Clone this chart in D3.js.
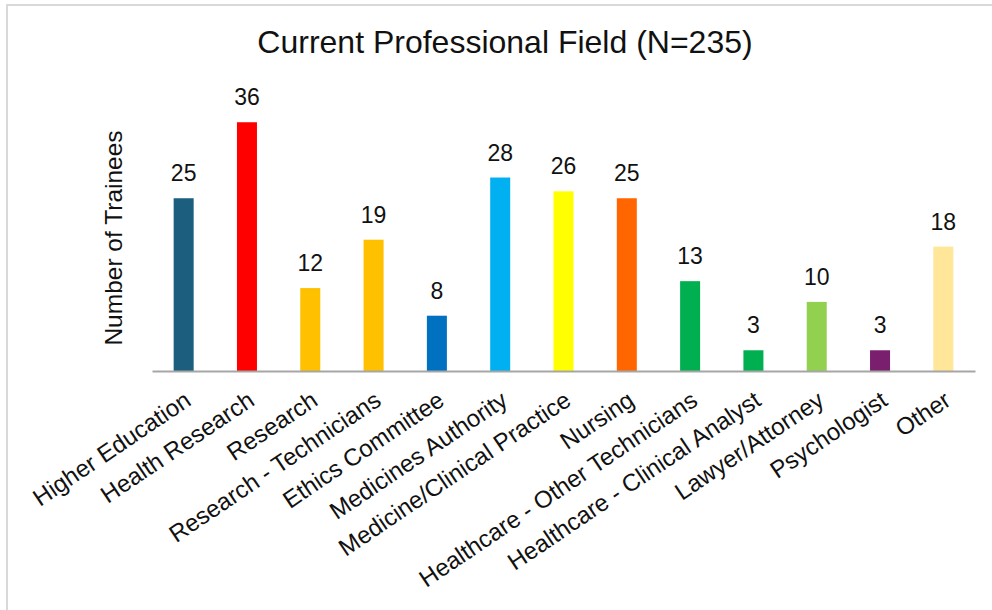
<!DOCTYPE html>
<html>
<head>
<meta charset="utf-8">
<script src="https://cdn.jsdelivr.net/npm/d3@7"></script>
<style>
  html, body { margin: 0; padding: 0; background: #fff; }
  svg { display: block; font-family: "Liberation Sans", Arial, sans-serif; }
</style>
</head>
<body>
<svg id="chart" width="992" height="610"></svg>
<script>
// Trainees by current professional field
const categories = [
  "Higher Education", "Health Research", "Research", "Research - Technicians",
  "Ethics Committee", "Medicines Authority", "Medicine/Clinical Practice", "Nursing",
  "Healthcare - Other Technicians", "Healthcare - Clinical Analyst", "Lawyer/Attorney",
  "Psychologist", "Other"
];
const trainees = [25, 36, 12, 19, 8, 28, 26, 25, 13, 3, 10, 3, 18];
const barColors = [
  "#1b5e7e", "#ff0000", "#ffc000", "#ffc000", "#0070c0", "#00b0f0", "#ffff00",
  "#ff6600", "#00b050", "#00b050", "#92d050", "#7a1f6e", "#ffe699"
];
const chartTitle = "Current Professional Field (N=235)";
const yTitle = "Number of Trainees";

const svg = d3.select("#chart");

// chart frame (only top and left edges fall inside the view)
svg.append("rect")
  .attr("x", 7).attr("y", 5)
  .attr("width", 1000).attr("height", 620)
  .attr("fill", "none")
  .attr("stroke", "#d9d9d9")
  .attr("stroke-width", 2);

const plot = { left: 152, right: 975, bottom: 371 };

const x = d3.scaleBand()
  .domain(categories)
  .range([plot.left, plot.right])
  .paddingInner(0.684)
  .paddingOuter(0.342);

const y = d3.scaleLinear()
  .domain([0, 40])
  .range([plot.bottom, plot.bottom - 40 * 6.91]);

const data = categories.map((c, i) => ({ name: c, value: trainees[i], color: barColors[i] }));

// bars
svg.append("g").selectAll("rect")
  .data(data)
  .join("rect")
  .attr("x", d => x(d.name))
  .attr("y", d => y(d.value))
  .attr("width", x.bandwidth())
  .attr("height", d => y(0) - y(d.value))
  .attr("fill", d => d.color);

// value labels
svg.append("g").selectAll("text")
  .data(data)
  .join("text")
  .attr("x", d => x(d.name) + x.bandwidth() / 2)
  .attr("y", d => y(d.value) - 17)
  .attr("text-anchor", "middle")
  .attr("font-size", 23)
  .attr("fill", "#111")
  .text(d => d.value);

// category axis
const xAxis = svg.append("g")
  .attr("transform", `translate(0,${plot.bottom})`)
  .call(d3.axisBottom(x).tickSize(0).tickSizeOuter(0).tickPadding(0));
xAxis.select(".domain")
  .attr("stroke", "#a6a6a6")
  .attr("stroke-width", 2);
xAxis.selectAll(".tick text")
  .attr("font-size", 24)
  .attr("font-family", "'Liberation Sans', Arial, sans-serif")
  .attr("fill", "#111")
  .attr("text-anchor", "end")
  .attr("y", 0)
  .attr("dy", 0)
  .attr("transform", "translate(9,33) rotate(-34)");

// y-axis title
svg.append("text")
  .attr("transform", "translate(122,238) rotate(-90)")
  .attr("text-anchor", "middle")
  .attr("font-size", 24.5)
  .attr("fill", "#111")
  .text(yTitle);

// chart title
svg.append("text")
  .attr("x", 505)
  .attr("y", 53)
  .attr("text-anchor", "middle")
  .attr("font-size", 32)
  .attr("fill", "#111")
  .text(chartTitle);
</script>
</body>
</html>
